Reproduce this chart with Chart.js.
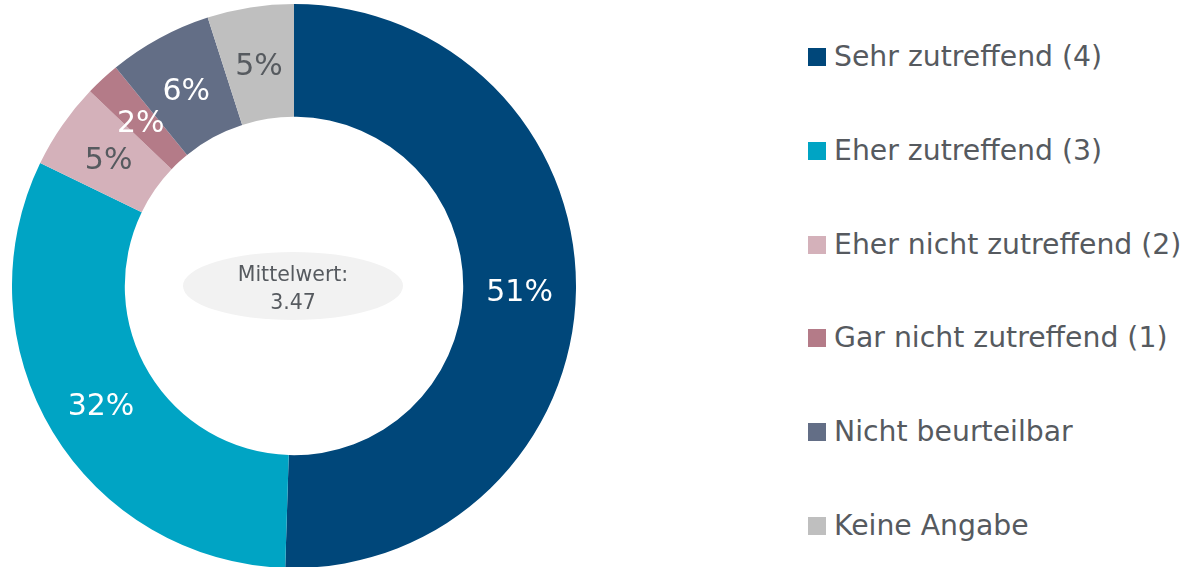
<!DOCTYPE html>
<html>
<head>
<meta charset="utf-8">
<script src="https://cdn.jsdelivr.net/npm/chart.js@4"></script>
<style>
  html, body { margin:0; padding:0; background:#fff; width:1185px; height:567px; overflow:hidden; }
  #wrap { position:absolute; left:12px; top:4px; width:564px; height:564px; }
  #legend { position:absolute; left:808px; top:0; font-family:"DejaVu Sans", sans-serif; color:#565A5F; }
  .row { position:absolute; left:0; white-space:nowrap; display:flex; align-items:center; }
  .sw { width:18px; height:18px; margin-right:8px; flex:none; }
  .lt { font-size:28.3px; line-height:32px; }
</style>
</head>
<body>
<div id="wrap"><canvas id="c"></canvas></div>
<div id="legend"></div>
<script>
const categories = ["Sehr zutreffend (4)", "Eher zutreffend (3)", "Eher nicht zutreffend (2)", "Gar nicht zutreffend (1)", "Nicht beurteilbar", "Keine Angabe"];
const percentValues = [51, 32, 5, 2, 6, 5];
const sliceColors = ["#00477A", "#00A4C4", "#D4B1BA", "#B47B88", "#636E86", "#BFBFBF"];
const labelColors = ["#FFFFFF", "#FFFFFF", "#565A5F", "#FFFFFF", "#FFFFFF", "#565A5F"];
const meanLabel = "Mittelwert:";
const meanValue = "3.47";

// HTML legend
const legend = document.getElementById('legend');
categories.forEach((c, i) => {
  const r = document.createElement('div');
  r.className = 'row';
  r.style.top = (41 + i * 93.8) + 'px';
  r.innerHTML = '<span class="sw" style="background:' + sliceColors[i] + '"></span><span class="lt">' + c + '</span>';
  legend.appendChild(r);
});

const labelPlugin = {
  id: 'sliceLabels',
  afterDatasetsDraw(chart) {
    const ctx = chart.ctx;
    const meta = chart.getDatasetMeta(0);
    ctx.save();
    ctx.font = '30px "DejaVu Sans", sans-serif';
    ctx.textAlign = 'center';
    ctx.textBaseline = 'middle';
    meta.data.forEach((arc, i) => {
      const p = arc.tooltipPosition();
      ctx.fillStyle = labelColors[i];
      ctx.fillText(percentValues[i] + '%', p.x, p.y + 4);
    });
    // center ellipse
    const cx = (chart.chartArea.left + chart.chartArea.right) / 2;
    const cy = (chart.chartArea.top + chart.chartArea.bottom) / 2;
    ctx.fillStyle = '#F2F2F2';
    ctx.beginPath();
    ctx.ellipse(cx - 1, cy, 110, 34, 0, 0, Math.PI * 2);
    ctx.fill();
    ctx.fillStyle = '#565A5F';
    ctx.font = '20.5px "DejaVu Sans", sans-serif';
    ctx.fillText(meanLabel, cx - 1, cy - 10);
    ctx.fillText(meanValue, cx - 1, cy + 18);
    ctx.restore();
  }
};

new Chart(document.getElementById('c'), {
  type: 'doughnut',
  data: {
    labels: categories,
    datasets: [{
      data: percentValues,
      backgroundColor: sliceColors,
      borderWidth: 0
    }]
  },
  options: {
    responsive: true,
    maintainAspectRatio: false,
    animation: false,
    cutout: '60%',
    layout: { padding: 0 },
    plugins: { legend: { display: false }, tooltip: { enabled: false } }
  },
  plugins: [labelPlugin]
});
</script>
</body>
</html>
